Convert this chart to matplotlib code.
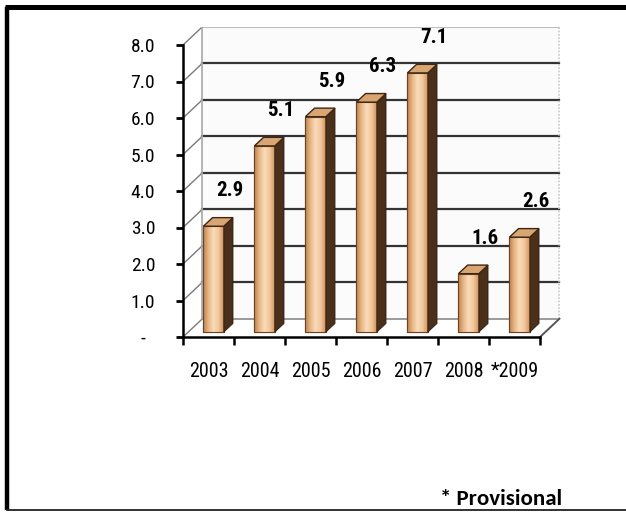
"""
Pseudo-3D column chart of yearly values, 2003 to provisional 2009.
"""

import matplotlib
matplotlib.use("Agg")
import matplotlib.pyplot as plt
import numpy as np
from matplotlib.colors import LinearSegmentedColormap
from matplotlib.lines import Line2D
from matplotlib.patches import Polygon

years = ["2003", "2004", "2005", "2006", "2007", "2008", "*2009"]
values = [2.9, 5.1, 5.9, 6.3, 7.1, 1.6, 2.6]
value_labels = ["2.9", "5.1", "5.9", "6.3", "7.1", "1.6", "2.6"]
y_ticks = [0, 1, 2, 3, 4, 5, 6, 7, 8]
y_tick_labels = ["-  ", "1.0", "2.0", "3.0", "4.0", "5.0", "6.0", "7.0", "8.0"]
footnote = "* Provisional"

NARROW = ["Roboto Condensed", "Archivo Narrow", "DejaVu Sans"]

# depth of the box (category units, value units) and of each bar
DX, DY = 0.38, 0.5
BAR_DX, BAR_DY = 0.18, 0.235
BAR_SHIFT_X, BAR_SHIFT_Y = 0.10, 0.135
BAR_W = 0.40

fig = plt.figure(figsize=(6.26, 5.13), dpi=100)
ax = fig.add_axes([183 / 626, 176 / 513, 380 / 626, 310 / 513])
x = np.arange(len(years))
n = len(years)
ymax = y_ticks[-1]

# back wall, side wall and floor
wall = Polygon([(-0.5 + DX, DY), (n - 0.5 + DX, DY), (n - 0.5 + DX, ymax + DY),
                (-0.5 + DX, ymax + DY)], closed=True, facecolor="#fbfbfb",
               edgecolor="none", zorder=0)
ax.add_patch(wall)
for t in y_ticks:
    if t == 0:
        col, lw = "#8a8a8a", 1.2
    elif t == ymax:
        col, lw = "#bdbdbd", 1.5
    else:
        col, lw = "#333333", 1.6
    ax.plot([-0.5 + DX, n - 0.5 + DX], [t + DY, t + DY], color=col, lw=lw, zorder=1)
    ax.plot([-0.5, -0.5 + DX], [t, t + DY], color="#7a7a7a", lw=1.0, zorder=1)
ax.plot([-0.5 + DX, -0.5 + DX], [DY, ymax + DY], color="#a8a8a8", lw=1.2, zorder=1)
ax.plot([n - 0.5 + DX, n - 0.5 + DX], [DY, ymax + DY], color="#c8c8c8", lw=1.2,
        ls=(0, (1, 1)), zorder=1)
ax.plot([n - 0.5, n - 0.5 + DX], [0, DY], color="#555555", lw=1.4, zorder=1)

# bars: front face via ax.bar, then side and top faces
bars = ax.bar(x + BAR_SHIFT_X, values, width=BAR_W, bottom=BAR_SHIFT_Y,
              color="#f0c08e", edgecolor="#6b4423", linewidth=0.8, zorder=3)
grad = LinearSegmentedColormap.from_list(
    "tan", ["#b98250", "#e9b582", "#f9dcbc", "#f2c79a", "#cf9460"])
gimg = np.linspace(0, 1, 64).reshape(1, -1)
for rect, v in zip(bars, values):
    x0 = rect.get_x()
    x1 = x0 + rect.get_width()
    b = rect.get_y()
    t = b + rect.get_height()
    im = ax.imshow(gimg, cmap=grad, extent=[x0, x1, b, t], aspect="auto",
                   interpolation="bilinear", zorder=3.1)
    im.set_clip_path(rect)
    side = Polygon([(x1, b), (x1 + BAR_DX, b + BAR_DY), (x1 + BAR_DX, t + BAR_DY),
                    (x1, t)], closed=True, facecolor="#4a2f1b",
                   edgecolor="#2e1c0f", linewidth=0.6, zorder=3.2)
    top = Polygon([(x0, t), (x1, t), (x1 + BAR_DX, t + BAR_DY), (x0 + BAR_DX, t + BAR_DY)],
                  closed=True, facecolor="#d9a673", edgecolor="#3d2614",
                  linewidth=1.0, zorder=3.3)
    ax.add_patch(side)
    ax.add_patch(top)
    edge = Polygon([(x0, b), (x1, b), (x1, t), (x0, t)], closed=True, fill=False,
                   edgecolor="#6b4423", linewidth=0.8, zorder=3.15)
    ax.add_patch(edge)

for xi, v, lab in zip(x, values, value_labels):
    ax.text(xi + 0.42, v + 1.1, lab, ha="center", va="center", fontsize=15,
            fontweight="bold", family=NARROW, color="black", zorder=5)

ax.set_ylim(0, ymax * 310 / 292)
ax.set_xlim(-0.5, n - 0.5 + 0.45)

# axes lines and ticks
for s in ["top", "right"]:
    ax.spines[s].set_visible(False)
ax.spines["left"].set_bounds(0, ymax)
ax.spines["bottom"].set_bounds(-0.5, n - 0.5)
for s in ["left", "bottom"]:
    ax.spines[s].set_linewidth(1.8)
    ax.spines[s].set_color("black")
    ax.spines[s].set_zorder(4)

ax.set_yticks(y_ticks)
ax.set_yticklabels(y_tick_labels, family=NARROW, fontsize=14)
ax.tick_params(axis="y", direction="out", length=5, width=2, pad=15)

ax.set_xticks(x)
ax.set_xticklabels(years, family=NARROW, fontsize=14.5)
ax.set_xticks(np.arange(n + 1) - 0.5, minor=True)
ax.tick_params(axis="x", which="major", length=0, pad=18)
ax.tick_params(axis="x", which="minor", direction="out", length=6, width=1.8)
ax.patch.set_visible(False)

# outer frame
fig.add_artist(Line2D([7 / 626, 7 / 626], [3 / 513, 506 / 513], color="black", lw=3.2,
                      solid_capstyle="butt"))
fig.add_artist(Line2D([5 / 626, 1], [506 / 513, 506 / 513], color="black", lw=3.6,
                      solid_capstyle="butt"))
fig.add_artist(Line2D([7 / 626, 1], [3.5 / 513, 3.5 / 513], color="#222222", lw=1.3))

fig.text(501 / 626, 8 / 513, footnote, ha="center", va="baseline", fontsize=16.5,
         fontweight="bold", family=["Carlito", "Lato", "DejaVu Sans"])

fig.savefig("out.png", dpi=100)
